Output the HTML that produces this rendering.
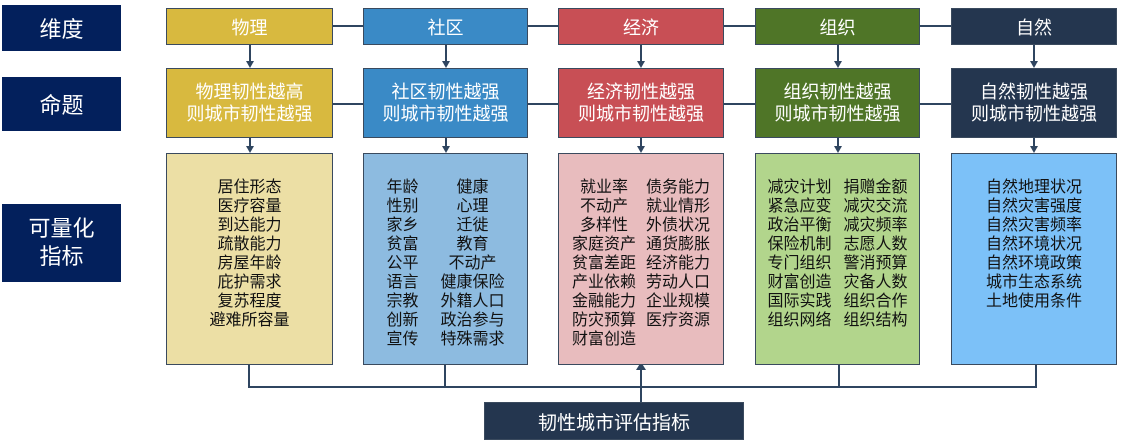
<!DOCTYPE html><html><head><meta charset="utf-8"><style>
body{margin:0;width:1123px;height:445px;background:#fff;position:relative;overflow:hidden;font-family:"Liberation Sans","Noto Sans CJK SC",sans-serif}
.b{position:absolute;box-sizing:border-box;border:1.5px solid #3a4a5e;display:flex;align-items:center;justify-content:center;text-align:center;color:#fff}
.l{background:#03205c;border:none;font-size:22px}
.t{font-size:18px;top:8px;height:37px}
.p{font-size:18px;top:68px;height:70px;line-height:22px}
.i{top:153px;height:212px;color:#111;font-size:16px;line-height:19px;align-items:flex-start;padding-top:24px}
.h{position:absolute;background:#2f4560}
.v{position:absolute;width:2px;background:#2f4560}
.a{position:absolute;width:0;height:0;border-left:4px solid transparent;border-right:4px solid transparent;border-top:7px solid #2f4560}
.c{display:flex;gap:18px;text-align:left}
</style></head><body>
<div class="b l" style="left:2px;top:5px;width:119px;height:46px">维度</div>
<div class="b l" style="left:2px;top:77px;width:119px;height:54px">命题</div>
<div class="b l" style="left:2px;top:204px;width:119px;height:78px;line-height:28px">可量化<br>指标</div>

<div class="h" style="left:330px;top:25px;width:625px;height:2px"></div>
<div class="h" style="left:330px;top:103px;width:625px;height:2px"></div>
<div class="h" style="left:248px;top:386px;width:789px;height:2px"></div>
<div class="v" style="left:248px;top:364px;height:24px"></div>
<div class="v" style="left:444px;top:364px;height:24px"></div>
<div class="v" style="left:838px;top:364px;height:24px"></div>
<div class="v" style="left:1035px;top:364px;height:24px"></div>
<div class="v" style="left:640px;top:368px;height:35px"></div>
<div style="position:absolute;left:636px;top:362px;border-left:5px solid transparent;border-right:5px solid transparent;border-bottom:8px solid #2f4560"></div>

<div class="v" style="left:249px;top:44px;height:18px"></div><div class="a" style="left:246px;top:61px"></div>
<div class="v" style="left:249px;top:137px;height:10px"></div><div class="a" style="left:246px;top:146px"></div>
<div class="v" style="left:445px;top:44px;height:18px"></div><div class="a" style="left:442px;top:61px"></div>
<div class="v" style="left:445px;top:137px;height:10px"></div><div class="a" style="left:442px;top:146px"></div>
<div class="v" style="left:640px;top:44px;height:18px"></div><div class="a" style="left:637px;top:61px"></div>
<div class="v" style="left:640px;top:137px;height:10px"></div><div class="a" style="left:637px;top:146px"></div>
<div class="v" style="left:837px;top:44px;height:18px"></div><div class="a" style="left:834px;top:61px"></div>
<div class="v" style="left:837px;top:137px;height:10px"></div><div class="a" style="left:834px;top:146px"></div>
<div class="v" style="left:1033px;top:44px;height:18px"></div><div class="a" style="left:1030px;top:61px"></div>
<div class="v" style="left:1033px;top:137px;height:10px"></div><div class="a" style="left:1030px;top:146px"></div>

<div class="b t" style="left:166px;width:167px;background:#d8b93f">物理</div>
<div class="b t" style="left:363px;width:165px;background:#3a8ac6">社区</div>
<div class="b t" style="left:558px;width:166px;background:#c84f55">经济</div>
<div class="b t" style="left:755px;width:165px;background:#4f7527">组织</div>
<div class="b t" style="left:951px;width:166px;background:#24364f">自然</div>

<div class="b p" style="left:166px;width:167px;background:#d8b93f">物理韧性越高<br>则城市韧性越强</div>
<div class="b p" style="left:363px;width:165px;background:#3a8ac6">社区韧性越强<br>则城市韧性越强</div>
<div class="b p" style="left:558px;width:166px;background:#c84f55">经济韧性越强<br>则城市韧性越强</div>
<div class="b p" style="left:755px;width:165px;background:#4f7527">组织韧性越强<br>则城市韧性越强</div>
<div class="b p" style="left:951px;width:166px;background:#24364f">自然韧性越强<br>则城市韧性越强</div>

<div class="b i" style="left:166px;width:167px;background:#ecdfa5">居住形态<br>医疗容量<br>到达能力<br>疏散能力<br>房屋年龄<br>庇护需求<br>复苏程度<br>避难所容量</div>
<div class="b i" style="left:363px;width:165px;background:#8dbbe0"><div class="c" style="gap:22px"><div>年龄<br>性别<br>家乡<br>贫富<br>公平<br>语言<br>宗教<br>创新<br>宣传</div><div style="text-align:center">健康<br>心理<br>迁徙<br>教育<br>不动产<br>健康保险<br>外籍人口<br>政治参与<br>特殊需求</div></div></div>
<div class="b i" style="left:558px;width:166px;background:#e8bcbe"><div class="c" style="gap:10px"><div style="text-align:center">就业率<br>不动产<br>多样性<br>家庭资产<br>贫富差距<br>产业依赖<br>金融能力<br>防灾预算<br>财富创造</div><div>债务能力<br>就业情形<br>外债状况<br>通货膨胀<br>经济能力<br>劳动人口<br>企业规模<br>医疗资源</div></div></div>
<div class="b i" style="left:755px;width:165px;background:#b2d58c"><div class="c" style="gap:12px"><div>减灾计划<br>紧急应变<br>政治平衡<br>保险机制<br>专门组织<br>财富创造<br>国际实践<br>组织网络</div><div>捐赠金额<br>减灾交流<br>减灾频率<br>志愿人数<br>警消预算<br>灾备人数<br>组织合作<br>组织结构</div></div></div>
<div class="b i" style="left:951px;width:166px;background:#7cc1f8">自然地理状况<br>自然灾害强度<br>自然灾害频率<br>自然环境状况<br>自然环境政策<br>城市生态系统<br>土地使用条件</div>

<div class="b" style="left:484px;top:402px;width:260px;height:38px;background:#24364f;font-size:19px">韧性城市评估指标</div>
</body></html>
